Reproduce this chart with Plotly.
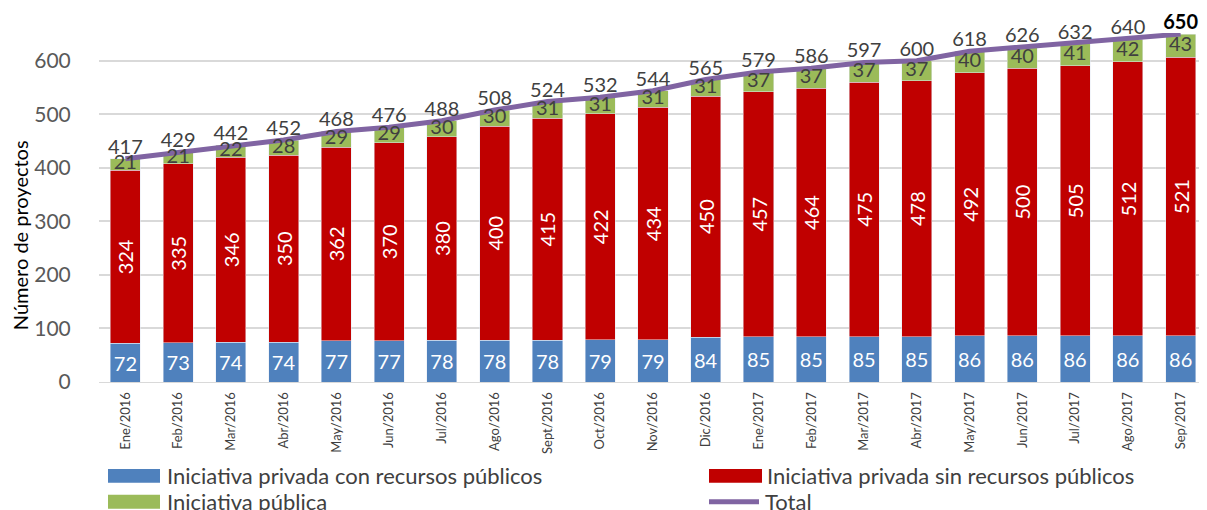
import plotly.graph_objects as go

categories = ["Ene/2016", "Feb/2016", "Mar/2016", "Abr/2016", "May/2016", "Jun/2016",
              "Jul/2016", "Ago/2016", "Sept/2016", "Oct/2016", "Nov/2016", "Dic/2016",
              "Ene/2017", "Feb/2017", "Mar/2017", "Abr/2017", "May/2017", "Jun/2017",
              "Jul/2017", "Ago/2017", "Sep/2017"]
privada_con = [72, 73, 74, 74, 77, 77, 78, 78, 78, 79, 79, 84, 85, 85, 85, 85, 86, 86, 86, 86, 86]
privada_sin = [324, 335, 346, 350, 362, 370, 380, 400, 415, 422, 434, 450, 457, 464, 475, 478,
               492, 500, 505, 512, 521]
publica = [21, 21, 22, 28, 29, 29, 30, 30, 31, 31, 31, 31, 37, 37, 37, 37, 40, 40, 41, 42, 43]
total = [417, 429, 442, 452, 468, 476, 488, 508, 524, 532, 544, 565, 579, 586, 597, 600,
         618, 626, 632, 640, 650]
y_ticks = [0, 100, 200, 300, 400, 500, 600]

legend_names = ["Iniciativa privada con recursos públicos",
                "Iniciativa privada sin recursos públicos",
                "Iniciativa pública", "Total"]
y_title = "Número de proyectos"

BLUE, RED, GREEN, PURPLE = "#4F81BD", "#C00000", "#9BBB59", "#8064A2"
FONT = "Lato"
DARK = "#404040"

# page body has an 8px margin; figure coordinates = page coordinates - OFF
OFF = 8
W, H = 1207 - OFF, 510 - OFF
PLOT_LEFT, PLOT_BOTTOM = 99 - OFF, 382 - OFF
YMAX = 652
PX_PER_UNIT = 0.536
PH = YMAX * PX_PER_UNIT
L, R = PLOT_LEFT, 0
B = H - PLOT_BOTTOM
T = H - B - PH
PW = W - L - R

def xp(px):
    return (px - OFF - L) / PW

def yp(py):
    return (PLOT_BOTTOM - (py - OFF)) / PH

fig = go.Figure()
fig.add_bar(x=categories, y=privada_con, name=legend_names[0], marker_color=BLUE,
            text=[str(v) for v in privada_con], textposition="inside",
            insidetextanchor="middle", textangle=0,
            textfont=dict(color="white", size=20, family=FONT))
fig.add_bar(x=categories, y=privada_sin, name=legend_names[1], marker_color=RED,
            text=[str(v) for v in privada_sin], textposition="inside",
            insidetextanchor="middle", textangle=-90,
            textfont=dict(color="white", size=20, family=FONT))
fig.add_bar(x=categories, y=publica, name=legend_names[2], marker_color=GREEN)

fig.add_scatter(x=categories, y=total, name=legend_names[3], mode="lines",
                line=dict(color=PURPLE, width=5), cliponaxis=False)

# labels for the green segments, centred in each segment
mid_pub = [a + b + c / 2 for a, b, c in zip(privada_con, privada_sin, publica)]
fig.add_scatter(x=categories, y=mid_pub, mode="text", text=[str(v) for v in publica],
                textposition="middle center", cliponaxis=False, showlegend=False,
                textfont=dict(color=DARK, size=20, family=FONT), hoverinfo="skip")

tot_text = [str(v) for v in total[:-1]] + ["<b>" + str(total[-1]) + "</b>"]
tot_colors = [DARK] * (len(total) - 1) + ["#000000"]
fig.add_scatter(x=categories, y=total, mode="text", text=tot_text,
                textposition="top center", cliponaxis=False, showlegend=False,
                textfont=dict(color=tot_colors, size=20, family=FONT), hoverinfo="skip")

fig.update_layout(
    width=W, height=H, barmode="stack", bargap=0.43,
    margin=dict(l=L, r=R, t=T, b=B, autoexpand=False),
    plot_bgcolor="white", paper_bgcolor="white",
    showlegend=False,
    font=dict(family=FONT, color=DARK),
    uniformtext=dict(minsize=20, mode="show"),
)
fig.update_xaxes(range=[-0.5, 20.5], tickangle=-90, tickfont=dict(size=13, color=DARK, family=FONT),
                 ticks="outside", ticklen=4, tickcolor="rgba(0,0,0,0)",
                 showline=True, linecolor="#D9D9D9", linewidth=1, showgrid=False)
fig.update_yaxes(range=[0, YMAX], tickvals=y_ticks,
                 tickfont=dict(size=21, color="#595959", family=FONT),
                 ticks="outside", ticklen=23, tickcolor="rgba(0,0,0,0)",
                 showgrid=True, gridcolor="#D9D9D9", gridwidth=1.5, zeroline=False)

# manual legend (page pixel positions)
shapes = []
annotations = [dict(xref="paper", yref="paper", x=xp(20), y=yp(235), textangle=-90,
                    xanchor="center", yanchor="middle", showarrow=False, text=y_title,
                    font=dict(size=20, color="#000000", family=FONT))]
rows = [(108, 160, 476, BLUE, legend_names[0], 165, "rect"),
        (709, 762, 476, RED, legend_names[1], 765, "rect"),
        (108, 160, 502, GREEN, legend_names[2], 165, "rect"),
        (706, 762, 502, PURPLE, legend_names[3], 763, "line")]
for x0, x1, yc, col, name, tx, kind in rows:
    if kind == "rect":
        shapes.append(dict(type="rect", xref="paper", yref="paper",
                           x0=xp(x0), x1=xp(x1), y0=yp(yc + 7), y1=yp(yc - 7),
                           fillcolor=col, line=dict(width=0)))
    else:
        shapes.append(dict(type="line", xref="paper", yref="paper",
                           x0=xp(x0 + 3), x1=xp(x1 - 3), y0=yp(yc), y1=yp(yc),
                           line=dict(color=col, width=5)))
    annotations.append(dict(xref="paper", yref="paper", x=xp(tx), y=yp(yc),
                            xanchor="left", yanchor="middle", showarrow=False,
                            text=name, font=dict(size=22, color=DARK, family=FONT)))
fig.update_layout(shapes=shapes, annotations=annotations)

fig.write_html("out.html")
